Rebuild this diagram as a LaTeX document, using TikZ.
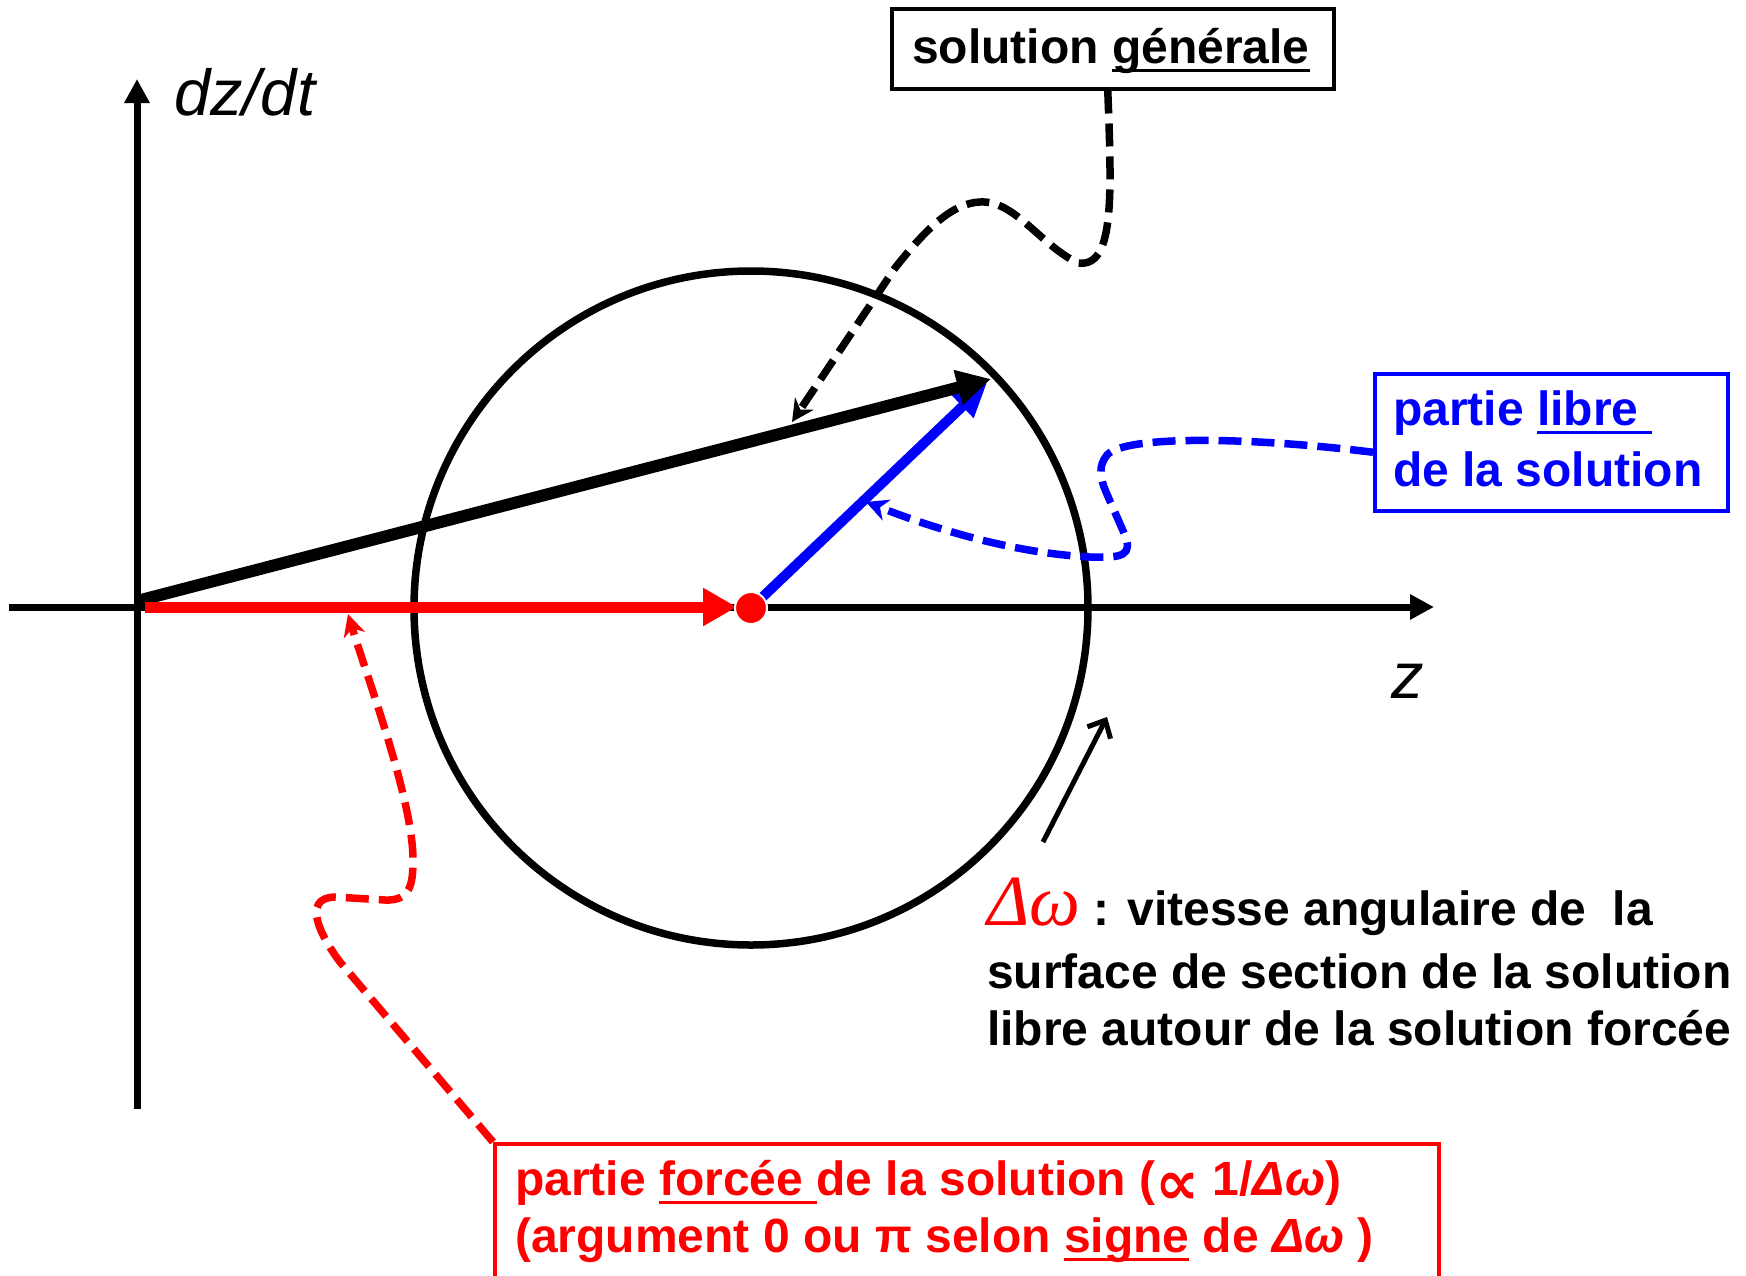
\documentclass[tikz,border=0pt]{standalone}
\usepackage{fontspec}
\setmainfont{Liberation Sans}
\newfontfamily\dwf{Liberation Serif}
\newfontfamily\symf{DejaVu Sans}
\usetikzlibrary{arrows.meta}
\newcommand\myul[1]{\setbox0=\hbox{#1}\rlap{\rule[-9pt]{\wd0}{3pt}}\box0\relax}
\newcommand\bigtxt{\fontsize{48}{58}\selectfont\bfseries}
\begin{document}
\begin{tikzpicture}[x=1pt,y=-1pt,
  txt/.style={inner sep=0pt, anchor=base west, font=\bigtxt},
  boxframe/.style={draw, line width=3.5pt, inner sep=0pt, anchor=north west},
  axisline/.style={line width=7pt, -{Triangle[length=24pt,width=24pt]}},
  dconn/.style={line width=7.5pt, dash pattern=on 23pt off 10pt, -{Stealth[length=22pt,width=22pt,inset=7pt]}},
  lbl/.style={inner sep=0pt, anchor=base west, font=\fontsize{65}{65}\selectfont\itshape},
]
\useasboundingbox (0,0) rectangle (1746,1275);
\clip (0,0) rectangle (1746,1275);

% key points
\coordinate (C) at (751,608);
\coordinate (Ptip) at (987,383);
\coordinate (Gtipv) at (991,379);
\coordinate (Ostart) at (137,601);
\coordinate (Rstart) at (145,607);
\coordinate (Rend) at (737,607);
\coordinate (ybot) at (137,1109);
\coordinate (ytop) at (137,79);
\coordinate (xl) at (9,607);
\coordinate (xr) at (1434,607);
\coordinate (gtip) at (792,422);
\coordinate (btip) at (866,502);
\coordinate (rtip) at (348,614);
\coordinate (rotS) at (1043,842);
\coordinate (rotE) at (1107,717);

% circle
\draw[line width=7.5pt] (C) circle[radius=337pt];

% axes
\draw[axisline] (ybot) -- (ytop);
\draw[axisline] (xl) -- (xr);

% vectors
\draw[blue, line width=10pt, -{Triangle[length=34pt,width=30pt]}] (C) -- (Ptip);
\draw[line width=12pt, -{Triangle[length=34pt,width=34pt]}] (Ostart) -- (Gtipv);
\draw[red, line width=11pt, -{Triangle[length=34pt,width=36pt]}] (Rstart) -- (Rend);
\fill[red, draw=white, line width=2pt] (C) circle[radius=16pt];

% axis labels
\node[lbl] (ylab) at (174,115) {dz/dt};
\node[lbl] (zlab) at (1391,698) {z};

% boxes
\node[boxframe, minimum width=442pt, minimum height=80pt] (gen) at (890,7) {};
\node[txt] (gent) at (912,63) {solution \myul{générale}};

\node[boxframe, draw=blue, minimum width=353pt, minimum height=137pt] (lib) at (1373,372) {};
\node[txt, text=blue] (lib1) at (1393,425) {partie \myul{libre }};
\node[txt, text=blue] (lib2) at (1393,486) {de la solution};

\node[boxframe, draw=red, minimum width=944pt, minimum height=200pt] (forc) at (493,1142) {};
\node[txt, text=red] (f1) at (515,1195) {partie \myul{forcée }de la solution ({\symf\bfseries\fontsize{62}{62}\selectfont\raisebox{-9pt}{∝}} 1/{\itshape Δω})};
\node[txt, text=red] (f2) at (515,1252) {(argument 0 ou π selon \myul{signe} de {\itshape Δω} )};

% description text
\node[txt] (d1) at (987,925) {{\color{red}\dwf\mdseries\itshape\fontsize{72}{72}\selectfont Δω} : vitesse angulaire de \ la};
\node[txt] (d2) at (987,988) {surface de section de la solution};
\node[txt] (d3) at (987,1045) {libre autour de la solution forcée};

% rotation arrow
\draw[line width=5pt, -{Straight Barb[length=14pt,width=26pt]}] (rotS) -- (rotE);

% dashed connectors
\draw[dconn] ([xshift=-5pt]gen.south) .. controls (1112,200) and (1114,268) .. (1078,263)
  .. controls (1040,245) and (1015,200) .. (980,202)
  .. controls (952,203) and (925,230) .. (895,268) -- (gtip);
\draw[dconn, blue] ([yshift=-10pt]lib.west) .. controls (1250,437) and (1125,435) .. (1107,455)
  .. controls (1098,466) and (1100,478) .. (1106,492) -- (1124,533)
  .. controls (1134,556) and (1122,558) .. (1090,557)
  .. controls (1010,553) and (930,527) .. (btip);
\draw[dconn, red] (forc.north west) -- (340,962)
  .. controls (322,938) and (300,898) .. (335,897) -- (385,900)
  .. controls (410,901) and (413,885) .. (413,860)
  .. controls (413,800) and (368,680) .. (rtip);
\end{tikzpicture}
\end{document}
